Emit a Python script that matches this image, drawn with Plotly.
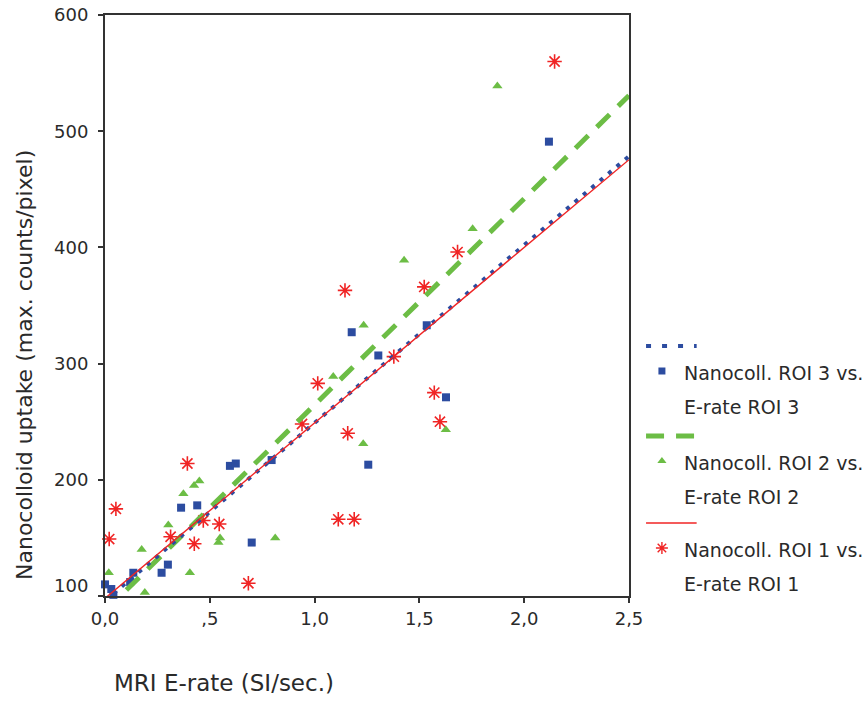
import plotly.graph_objects as go

# ---- data: MRI E-rate (SI/sec.) vs. nanocolloid uptake (max. counts/pixel) ----
# ROI 3 (blue squares)
roi3_x = [0.00, 0.03, 0.04, 0.12, 0.135, 0.27, 0.30, 0.363, 0.44, 0.596, 0.624,
          0.70, 0.795, 1.177, 1.256, 1.304, 1.535, 1.627, 2.118]
roi3_y = [110, 106, 101, 112, 120, 120, 127, 176, 178, 212, 214,
          146, 217, 327, 213, 307, 333, 271, 491]

# ROI 2 (green triangles)
roi2_x = [0.018, 0.175, 0.19, 0.302, 0.374, 0.425, 0.45, 0.405, 0.541, 0.549,
          0.812, 1.089, 1.234, 1.232, 1.427, 1.626, 1.754, 1.872]
roi2_y = [120, 140, 103, 161, 188, 195, 199, 120, 146, 150,
          150, 289, 333, 231, 389, 243, 416, 539]

# ROI 1 (red asterisks)
roi1_x = [0.02, 0.052, 0.313, 0.393, 0.426, 0.469, 0.545, 0.684, 0.94, 1.015,
          1.113, 1.145, 1.158, 1.189, 1.378, 1.523, 1.571, 1.598, 1.682, 2.145]
roi1_y = [149, 175, 151, 214, 145, 165, 162, 111, 248, 283,
          166, 363, 240, 166, 306, 366, 275, 250, 396, 560]

# linear fits (intercept, slope) for ROI 3, ROI 2, ROI 1
fit_intercept = [96, 87, 98]
fit_slope = [153, 177.5, 151]

x_ticks = [0.0, 0.5, 1.0, 1.5, 2.0, 2.5]
x_ticktext = ["0,0", ",5", "1,0", "1,5", "2,0", "2,5"]
y_ticks = [100, 200, 300, 400, 500, 600]
x_range = [0, 2.5]
y_range = [100, 600]

legend_first = ["Nanocoll. ROI 3 vs.", "Nanocoll. ROI 2 vs.", "Nanocoll. ROI 1 vs."]
legend_second = ["E-rate ROI 3", "E-rate ROI 2", "E-rate ROI 1"]

# ---- styles ----
BLUE = "#2c4ca0"
GREEN = "#6cbd45"
RED = "#f02424"
AXIS = "#333333"
TEXT = "#2a2a2a"
FONT = "DejaVu Sans"
W, H = 868, 701

fig = go.Figure()

# scatter markers
fig.add_trace(go.Scatter(x=roi3_x, y=roi3_y, mode="markers", cliponaxis=False,
                         marker=dict(symbol="square", size=8, color=BLUE),
                         showlegend=False))
fig.add_trace(go.Scatter(x=roi2_x, y=roi2_y, mode="markers", cliponaxis=False,
                         marker=dict(symbol="triangle-up", size=9, color=GREEN),
                         showlegend=False))
fig.add_trace(go.Scatter(x=roi1_x, y=roi1_y, mode="markers", cliponaxis=False,
                         marker=dict(symbol="asterisk-open", size=12, color=RED,
                                     line=dict(color=RED, width=1.6)),
                         showlegend=False))

# fit lines across the full x range
line_styles = [
    dict(color=BLUE, width=4, dash="4px,7px"),
    dict(color=GREEN, width=5, dash="18px,12px"),
    dict(color=RED, width=1.4),
]
for i in [1, 0, 2]:
    xs = list(x_range)
    ys = [fit_intercept[i] + fit_slope[i] * v for v in xs]
    fig.add_trace(go.Scatter(x=xs, y=ys, mode="lines", line=line_styles[i],
                             showlegend=False))

# ---- hand-made legend on its own hidden axes ----
leg_line_style = [
    dict(color=BLUE, width=4, dash="5px,11px"),
    dict(color=GREEN, width=5, dash="18px,12px"),
    dict(color=RED, width=1.5),
]
leg_marker = [
    dict(symbol="square", size=7, color=BLUE),
    dict(symbol="triangle-up", size=8, color=GREEN),
    dict(symbol="asterisk-open", size=10, color=RED,
         line=dict(color=RED, width=1.4)),
]
row0 = [16, 106, 193]          # vertical offset of each legend group
annotations = []
for k in range(3):
    y0 = row0[k]
    fig.add_trace(go.Scatter(x=[0.035, 0.255], y=[y0, y0], mode="lines",
                             line=leg_line_style[k], xaxis="x2", yaxis="y2",
                             showlegend=False))
    fig.add_trace(go.Scatter(x=[0.104], y=[y0 + 25], mode="markers",
                             marker=leg_marker[k], xaxis="x2", yaxis="y2",
                             showlegend=False))
    annotations.append(dict(x=0.19, y=y0 + 27, xref="x2", yref="y2",
                            text=legend_first[k], showarrow=False,
                            xanchor="left", yanchor="middle",
                            font=dict(family=FONT, size=19, color=TEXT)))
    annotations.append(dict(x=0.19, y=y0 + 61, xref="x2", yref="y2",
                            text=legend_second[k], showarrow=False,
                            xanchor="left", yanchor="middle",
                            font=dict(family=FONT, size=19, color=TEXT)))

# y tick labels (the bottom one sits just above the x axis line)
for v in y_ticks:
    annotations.append(dict(x=0, y=v, xref="x", yref="y", text=str(v),
                            showarrow=False, xanchor="right", yanchor="middle",
                            xshift=-15, yshift=11 if v == y_range[0] else 0,
                            font=dict(family=FONT, size=18, color=TEXT)))

# axis titles
annotations.append(dict(x=224 / W, y=1 - 683 / H, xref="paper", yref="paper",
                        text="MRI E-rate (SI/sec.)", showarrow=False,
                        xanchor="center", yanchor="middle",
                        font=dict(family=FONT, size=23, color=TEXT)))
annotations.append(dict(x=24 / W, y=1 - 365 / H, xref="paper", yref="paper",
                        text="Nanocolloid uptake (max. counts/pixel)",
                        showarrow=False, textangle=-90,
                        xanchor="center", yanchor="middle",
                        font=dict(family=FONT, size=22, color=TEXT)))

axis_common = dict(showline=True, linewidth=2, linecolor=AXIS, mirror=True,
                   showgrid=False, zeroline=False, ticks="outside", ticklen=5,
                   tickwidth=2, tickcolor=AXIS, automargin=False,
                   tickfont=dict(family=FONT, size=18, color=TEXT))

fig.update_layout(
    width=W, height=H, autosize=False,
    margin=dict(l=0, r=0, t=0, b=0),
    paper_bgcolor="white", plot_bgcolor="white",
    showlegend=False,
    xaxis=dict(domain=[105 / W, 629 / W], range=x_range, tickvals=x_ticks,
               ticktext=x_ticktext, **axis_common),
    yaxis=dict(domain=[1 - 596 / H, 1 - 15 / H], range=y_range,
               tickvals=y_ticks, showticklabels=False, **axis_common),
    xaxis2=dict(domain=[638 / W, 1.0], range=[0, 1], visible=False,
                anchor="y2", fixedrange=True),
    yaxis2=dict(domain=[1 - 600 / H, 1 - 330 / H], range=[270, 0],
                visible=False, anchor="x2", fixedrange=True),
    annotations=annotations,
)

fig.write_html("out.html")
